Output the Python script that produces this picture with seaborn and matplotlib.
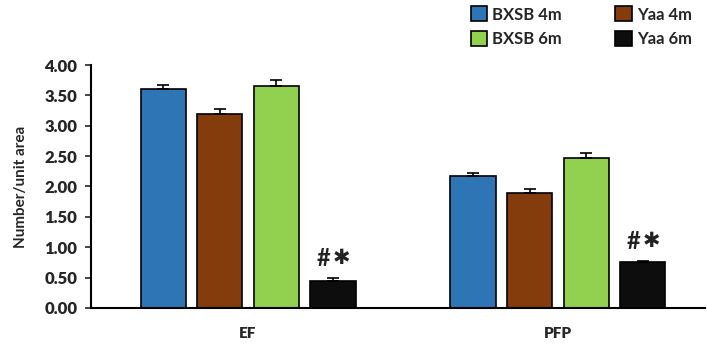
import pandas as pd
import numpy as np
import matplotlib
matplotlib.use('Agg')
import matplotlib.pyplot as plt
import seaborn as sns
from matplotlib.patches import Patch

# ---------------------------------------------
# Datos
# ---------------------------------------------
regiones = ['EF', 'PFP']
grupos = ['BXSB 4m', 'Yaa 4m', 'BXSB 6m', 'Yaa 6m']
colores = ['#2E75B6', '#843C0C', '#92D050', '#0D0D0D']

valores = {
    'BXSB 4m': [3.60, 2.17],
    'Yaa 4m': [3.20, 1.90],
    'BXSB 6m': [3.65, 2.47],
    'Yaa 6m': [0.45, 0.76],
}
errores = {
    'BXSB 4m': [0.07, 0.05],
    'Yaa 4m': [0.08, 0.06],
    'BXSB 6m': [0.10, 0.08],
    'Yaa 6m': [0.05, 0.02],
}

filas = []
for g in grupos:
    for r, v, e in zip(regiones, valores[g], errores[g]):
        filas.append({'Region': r, 'Grupo': g, 'Valor': v, 'Error': e})
df = pd.DataFrame(filas)

# ---------------------------------------------
# Gráfico
# ---------------------------------------------
sns.set_style('white')
plt.rcParams['font.family'] = ['Lato', 'DejaVu Sans']
plt.rcParams['font.weight'] = 'bold'

fig = plt.figure(figsize=(7.07, 3.44), dpi=100)
ax = fig.add_axes([0.129, 0.105, 0.868, 0.706])

sns.barplot(data=df, x='Region', y='Valor', hue='Grupo', order=regiones,
            hue_order=grupos, palette=colores, saturation=1, width=0.73, gap=0.2,
            edgecolor='black', linewidth=1.2, errorbar=None, legend=False, ax=ax)

# barras de error (solo hacia arriba)
for patches, g in zip(ax.containers, grupos):
    xs = [p.get_x() + p.get_width() / 2 for p in patches]
    ys = valores[g]
    ax.errorbar(xs, ys, yerr=[np.zeros(len(ys)), errores[g]], fmt='none',
                ecolor='black', elinewidth=1.2, capsize=4, capthick=1.2)

# marcas de significancia sobre Yaa 6m
for p, e in zip(ax.containers[3], errores['Yaa 6m']):
    x = p.get_x() + p.get_width() / 2
    y = p.get_height() + e + 0.32
    ax.text(x - 0.008, y, '#', ha='right', va='center',
            fontsize=17, fontweight='bold', color='#222222')
    ax.text(x + 0.0, y, '✱', ha='left', va='center', family='DejaVu Sans',
            fontsize=15, fontweight='bold', color='#222222')

ticks_y = np.arange(0, 4.01, 0.5)
ax.set_ylim(0, 4)
ax.set_xlim(-0.506, 1.474)
ax.set_yticks(ticks_y, labels=[f'{v:.2f}' for v in ticks_y],
              fontsize=12, fontweight='heavy')
ax.set_xticks([0, 1], labels=regiones, fontsize=11, fontweight='heavy')
ax.tick_params(axis='y', direction='out', length=4, width=1.2, left=True, pad=6)
ax.tick_params(axis='x', length=0, pad=14)
ax.set_xlabel('')
ax.set_ylabel('Number/unit area', fontsize=11, fontweight='bold', labelpad=12)

sns.despine(ax=ax)
for s in ['left', 'bottom']:
    ax.spines[s].set_linewidth(1.5)
    ax.spines[s].set_color('black')

# leyenda en dos columnas (BXSB a la izquierda, Yaa a la derecha)
orden = ['BXSB 4m', 'BXSB 6m', 'Yaa 4m', 'Yaa 6m']
handles = [Patch(facecolor=colores[grupos.index(g)], edgecolor='black', linewidth=1.2)
           for g in orden]
fig.legend(handles, orden, ncol=2, loc='upper right', bbox_to_anchor=(1.0, 1.025),
           frameon=False, prop={'weight': 'bold', 'size': 12},
           handlelength=1.0, handleheight=1.0, handletextpad=0.3,
           columnspacing=3.2, labelspacing=0.5)

plt.savefig('out.png', dpi=100)
